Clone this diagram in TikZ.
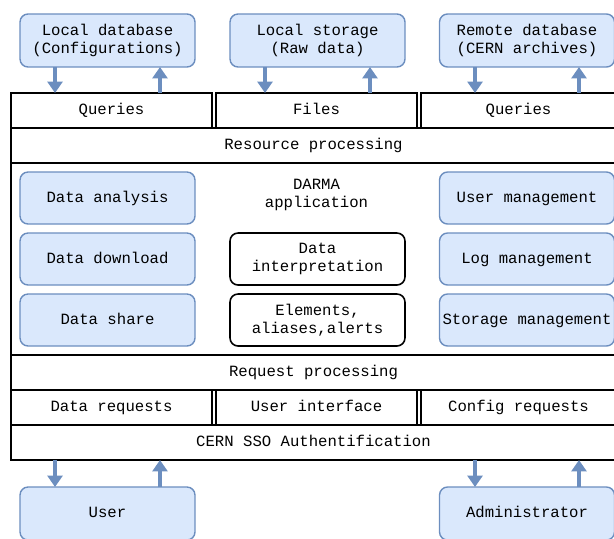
\documentclass[tikz,border=0pt]{standalone}
\usepackage{fontspec}
\setmonofont{Liberation Mono}
\usetikzlibrary{arrows.meta,positioning}
\definecolor{boxBlue}{HTML}{DAE8FC}
\definecolor{lineBlue}{HTML}{6C8EBF}
\tikzstyle{recNode} = [rectangle, text centered, align=center, font=\ttfamily\fontsize{8.9}{10.2}\selectfont, inner sep=0pt, outer sep=0pt]
\tikzstyle{lineText} = [text height=1.55ex, text depth=0.4ex]
\tikzstyle{recNodeB} = [recNode, minimum width=3.5cm, minimum height=1.04cm, rounded corners=0.16cm, draw=lineBlue, line width=0.8pt, fill=boxBlue]
\tikzstyle{recNodeW} = [recNode, minimum width=3.5cm, minimum height=1.04cm, rounded corners=0.16cm, draw=black, line width=0.9pt]
\tikzstyle{rowNode} = [recNode, lineText, minimum height=0.7cm, draw=black, line width=0.9pt]
\tikzstyle{eNode} = [recNode]
\tikzstyle{arrowB} = [line width=2.8pt, draw=lineBlue, -{Triangle[length=6.5pt,width=8.5pt]}]

\begin{document}
\begin{tikzpicture}[x=0.02cm, y=-0.02cm]
        \useasboundingbox (0,0) rectangle (614,538);
        % resources
        \node (ldb) [recNodeB, minimum height=1.06cm] at (107.5,40.5) {Local database\\(Configurations)};
        \node (lst) [recNodeB, minimum height=1.06cm] at (317.5,40.5) {Local storage\\(Raw data)};
        \node (rdb) [recNodeB, minimum height=1.06cm] at (527,40.5) {Remote database\\(CERN archives)};

        % server layers
        \node (q1) [rowNode, minimum width=4.02cm] at (111.5,110.5) {Queries};
        \node (files) [rowNode, minimum width=4.02cm] at (316.5,110.5) {Files};
        \node (q2) [rowNode, minimum width=3.9cm] at (518.5,110.5) {Queries};
        \node (res) [rowNode, minimum width=12.1cm] at (313.5,145.5) {Resource processing};
        \node (app) [rowNode, minimum width=12.1cm, minimum height=3.84cm] at (313.5,259) {};
        \node (req) [rowNode, minimum width=12.1cm] at (313.5,372.5) {Request processing};
        \node (dreq) [rowNode, minimum width=4.02cm] at (111.5,407.5) {Data requests};
        \node (ui) [rowNode, minimum width=4.02cm] at (316.5,407.5) {User interface};
        \node (creq) [rowNode, minimum width=3.9cm] at (518.5,407.5) {Config requests};
        \node (sso) [rowNode, minimum width=12.1cm] at (313.5,442.5) {CERN SSO Authentification};

        % application
        \node (darma) [eNode] at (316.5,195) {DARMA\\application};
        \node (ana) [recNodeB, lineText] at (107.5,198) {Data analysis};
        \node (dl) [recNodeB, lineText] at (107.5,259) {Data download};
        \node (share) [recNodeB, lineText] at (107.5,320) {Data share};
        \node (interp) [recNodeW] at (317.5,259) {Data\\interpretation};
        \node (elem) [recNodeW] at (317.5,320) {Elements,\\aliases,alerts};
        \node (users) [recNodeB, lineText] at (527,198) {User management};
        \node (logs) [recNodeB, lineText] at (527,259) {Log management};
        \node (store) [recNodeB, lineText] at (527,320) {Storage management};

        % clients
        \node (user) [recNodeB, lineText, minimum height=1.06cm] at (107.5,513.5) {User};
        \node (admin) [recNodeB, lineText, minimum height=1.06cm] at (527,513.5) {Administrator};

        \draw [arrowB] ([xshift=-1.05cm]ldb.south) -- ([xshift=-1.05cm]ldb.south |- q1.north);
        \draw [arrowB] ([xshift=1.05cm]ldb.south |- q1.north) -- ([xshift=1.05cm]ldb.south);
        \draw [arrowB] ([xshift=-1.05cm]lst.south) -- ([xshift=-1.05cm]lst.south |- files.north);
        \draw [arrowB] ([xshift=1.05cm]lst.south |- files.north) -- ([xshift=1.05cm]lst.south);
        \draw [arrowB] ([xshift=-1.04cm]rdb.south) -- ([xshift=-1.04cm]rdb.south |- q2.north);
        \draw [arrowB] ([xshift=1.04cm]rdb.south |- q2.north) -- ([xshift=1.04cm]rdb.south);
        \draw [arrowB] ([xshift=-1.05cm]user.north |- sso.south) -- ([xshift=-1.05cm]user.north);
        \draw [arrowB] ([xshift=1.05cm]user.north) -- ([xshift=1.05cm]user.north |- sso.south);
        \draw [arrowB] ([xshift=-1.04cm]admin.north |- sso.south) -- ([xshift=-1.04cm]admin.north);
        \draw [arrowB] ([xshift=1.04cm]admin.north) -- ([xshift=1.04cm]admin.north |- sso.south);
    \end{tikzpicture}
\end{document}
